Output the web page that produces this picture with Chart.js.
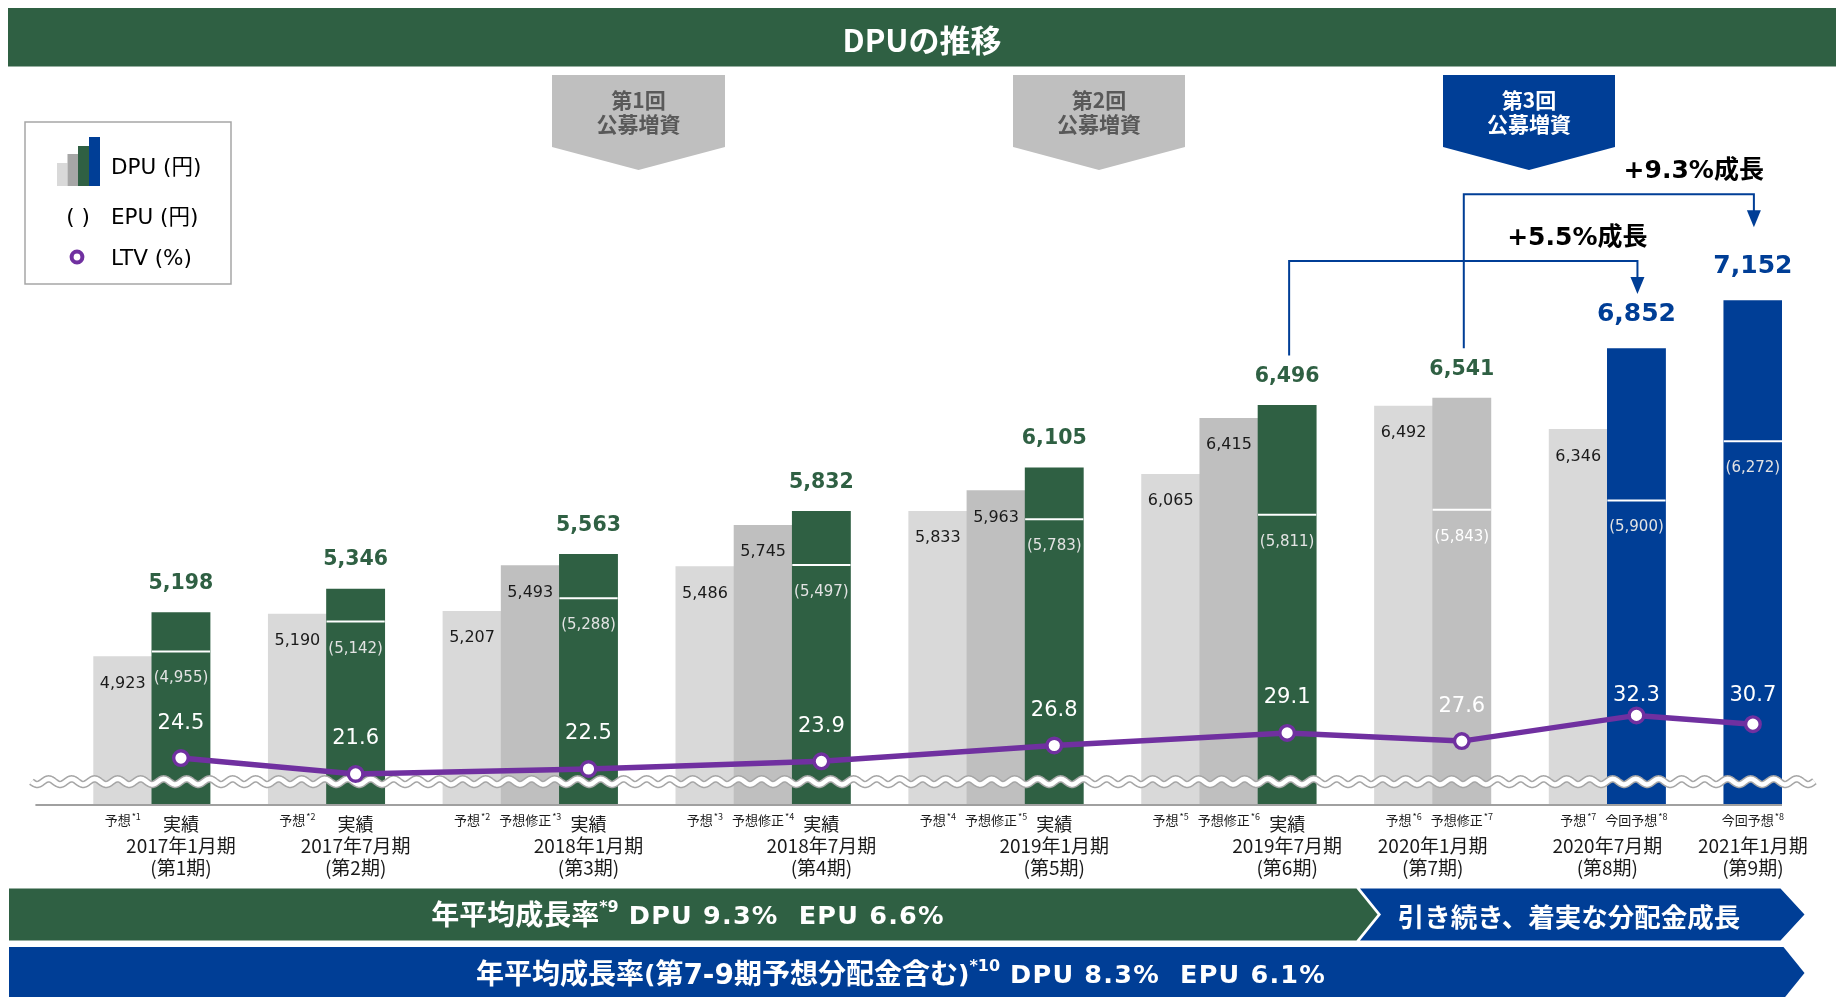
<!DOCTYPE html>
<html><head><meta charset="utf-8">
<script src="https://cdn.jsdelivr.net/npm/chart.js@4/dist/chart.umd.min.js"></script>
<style>
html,body{margin:0;padding:0;background:#fff;}
#wrap{position:relative;width:1836px;height:997px;overflow:hidden;}
#c{position:absolute;left:0;top:0;}
#ov{position:absolute;left:0;top:0;pointer-events:none;}
.mix{font-family:'DejaVu Sans','Noto Sans CJK JP',sans-serif;}
</style></head><body>
<div id="wrap">
<canvas id="c" width="1836" height="997"></canvas>
<svg id="ov" width="1836" height="997" xmlns="http://www.w3.org/2000/svg" font-family="'Noto Sans CJK JP','Noto Sans',sans-serif">
  <rect x="8" y="8" width="1828" height="58.5" fill="#2f6043"/>
  <text x="922" y="38" fill="#fff" font-size="31" font-weight="bold" text-anchor="middle" dominant-baseline="central">DPUの推移</text>

  <polygon points="552,75 725,75 725,147 638.5,170 552,147" fill="#bfbfbf"/>
  <text x="638.5" y="99" fill="#595959" font-size="21" font-weight="bold" text-anchor="middle" dominant-baseline="central">第1回</text>
  <text x="638.5" y="123" fill="#595959" font-size="21" font-weight="bold" text-anchor="middle" dominant-baseline="central">公募増資</text>

  <polygon points="1013,75 1185,75 1185,147 1099,170 1013,147" fill="#bfbfbf"/>
  <text x="1099" y="99" fill="#595959" font-size="21" font-weight="bold" text-anchor="middle" dominant-baseline="central">第2回</text>
  <text x="1099" y="123" fill="#595959" font-size="21" font-weight="bold" text-anchor="middle" dominant-baseline="central">公募増資</text>

  <polygon points="1443,75 1615,75 1615,147 1529,170 1443,147" fill="#003e96"/>
  <text x="1529" y="99" fill="#fff" font-size="21" font-weight="bold" text-anchor="middle" dominant-baseline="central">第3回</text>
  <text x="1529" y="123" fill="#fff" font-size="21" font-weight="bold" text-anchor="middle" dominant-baseline="central">公募増資</text>

  <rect x="25" y="122" width="206" height="162" fill="#fff" stroke="#a6a6a6" stroke-width="1.5"/>
  <rect x="57" y="163" width="10.5" height="23" fill="#d9d9d9"/>
  <rect x="67.5" y="154" width="10.5" height="32" fill="#a6a6a6"/>
  <rect x="78" y="146" width="11" height="40" fill="#2f6043"/>
  <rect x="89" y="137" width="11" height="49" fill="#003e96"/>
  <text class="mix" x="111" y="166" fill="#000" font-size="21.5" dominant-baseline="central">DPU (円)</text>
  <text class="mix" x="78" y="216" fill="#000" font-size="21.5" text-anchor="middle" dominant-baseline="central" xml:space="preserve">( )</text>
  <text class="mix" x="111" y="216" fill="#000" font-size="21.5" dominant-baseline="central">EPU (円)</text>
  <circle cx="77" cy="257" r="5.4" fill="#fff" stroke="#7030a0" stroke-width="4"/>
  <text class="mix" x="111" y="257" fill="#000" font-size="21.5" dominant-baseline="central">LTV (%)</text>

  <polygon points="9,888.5 1356.5,888.5 1377.5,914.5 1356.5,940.5 9,940.5" fill="#2f6043"/>
  <polygon points="1360,888.5 1780.5,888.5 1804.5,914.5 1780.5,940.5 1360,940.5 1381,914.5" fill="#003e96"/>
  <text class="mix" x="688" y="915" fill="#fff" font-size="28" font-weight="bold" text-anchor="middle" dominant-baseline="central" xml:space="preserve">年平均成長率<tspan font-size="16" dy="-9">*9</tspan><tspan dy="9" font-size="25.5" letter-spacing="1.2"> DPU 9.3%  EPU 6.6%</tspan></text>
  <text x="1569" y="915" fill="#fff" font-size="26.5" font-weight="bold" text-anchor="middle" dominant-baseline="central">引き続き、着実な分配金成長</text>

  <polygon points="9,947 1783.5,947 1804.5,973 1783.5,999 9,999" fill="#003e96"/>
  <text class="mix" x="901" y="974" fill="#fff" font-size="28" font-weight="bold" text-anchor="middle" dominant-baseline="central" xml:space="preserve">年平均成長率<tspan font-size="25">(</tspan>第7-9期予想分配金含む<tspan font-size="25">)</tspan><tspan font-size="16" dy="-9">*10</tspan><tspan dy="9" font-size="25.5" letter-spacing="1.2"> DPU 8.3%  EPU 6.1%</tspan></text>
</svg>
</div>
<script>
// ---- data ----
const periods = ['2017年1月期','2017年7月期','2018年1月期','2018年7月期','2019年1月期','2019年7月期','2020年1月期','2020年7月期','2021年1月期'];
const periodNos = ['(第1期)','(第2期)','(第3期)','(第4期)','(第5期)','(第6期)','(第7期)','(第8期)','(第9期)'];
const forecast = [4923, 5190, 5207, 5486, 5833, 6065, 6492, 6346, null];
const forecastNote = ['*1','*2','*2','*3','*4','*5','*6','*7', null];
const revised = [null, null, 5493, 5745, 5963, 6415, 6541, null, null];
const revisedNote = [null, null, '*3','*4','*5','*6','*7', null, null];
const actual = [5198, 5346, 5563, 5832, 6105, 6496, null, null, null];
const current = [null, null, null, null, null, null, null, 6852, 7152];
const currentNote = '*8';
const epu = [4955, 5142, 5288, 5497, 5783, 5811, 5843, 5900, 6272];
const ltv = [24.5, 21.6, 22.5, 23.9, 26.8, 29.1, 27.6, 32.3, 30.7];
const kindLabels = {forecast:'予想', revised:'予想修正', actual:'実績', current:'今回予想'};
const growth = [
  {from:5, to:7, label:'+5.5%成長', level:7400},
  {from:6, to:8, label:'+9.3%成長', level:7818}
];
const breakValue = 4140;      // DPU value where the axis-break band is drawn
const ltvLabelCeiling = 36.0; // LTV labels are not placed above this LTV level

// ---- styles ----
const COL = {forecast:'#d9d9d9', revised:'#bfbfbf', actual:'#2f6043', current:'#003e96'};
const GREEN = '#2f6043', BLUE = '#003e96', PURPLE = '#7030a0';
const NUMFONT = "'DejaVu Sans', Verdana, sans-serif";
const JPFONT = "'Noto Sans CJK JP', 'Noto Sans', sans-serif";
const MIXFONT = "'DejaVu Sans', 'Noto Sans CJK JP', sans-serif";

// ---- build slots ----
const slots = [{type:'pad'}];
for (let g = 0; g < periods.length; g++) {
  const bars = [];
  if (forecast[g] != null) bars.push({kind:'forecast', v:forecast[g], note:forecastNote[g]});
  if (revised[g] != null) bars.push({kind:'revised', v:revised[g], note:revisedNote[g]});
  if (actual[g] != null) bars.push({kind:'actual', v:actual[g], note:null});
  if (current[g] != null) bars.push({kind:'current', v:current[g], note:currentNote});
  bars.forEach((b, i) => { b.group = g; b.head = (i === bars.length - 1); slots.push(b); });
  if (g < periods.length - 1) slots.push({type:'gap'});
}
const labels = slots.map((s, i) => 's' + i);
const barData = slots.map(s => s.v != null ? s.v : null);
const barColors = slots.map(s => s.kind ? COL[s.kind] : 'rgba(0,0,0,0)');
const ltvData = slots.map(s => s.head ? ltv[s.group] : null);
const headIndex = g => slots.findIndex(s => s.head && s.group === g);

function drawSup(ctx, x, y, main, sup, mainFont, supFont, color) {
  ctx.save();
  ctx.fillStyle = color;
  ctx.textBaseline = 'alphabetic';
  ctx.textAlign = 'left';
  ctx.font = mainFont; const w1 = ctx.measureText(main).width;
  ctx.font = supFont; const w2 = sup ? ctx.measureText(sup).width + 1 : 0;
  const x0 = x - (w1 + w2) / 2;
  ctx.font = mainFont; ctx.fillText(main, x0, y);
  if (sup) { ctx.font = supFont; ctx.fillText(sup, x0 + w1 + 1, y - 5); }
  ctx.restore();
}

const deco = {
  id: 'deco',
  afterDatasetDraw(chart, args) {
    if (args.index !== 0) return;
    const ctx = chart.ctx, ca = chart.chartArea, ys = chart.scales.y;
    ctx.save();
    ctx.strokeStyle = '#a0a0a0'; ctx.lineWidth = 2;
    ctx.beginPath(); ctx.moveTo(ca.left, ca.bottom + 1); ctx.lineTo(ca.right, ca.bottom + 1); ctx.stroke();
    const yw = ys.getPixelForValue(breakValue);
    ctx.beginPath();
    const x0 = ca.left - 4, x1 = ca.right + 33;
    for (let x = x0; x <= x1; x += 1) {
      const yy = yw + 2.8 * Math.sin((x - x0) / 23 * 2 * Math.PI);
      if (x === x0) ctx.moveTo(x, yy); else ctx.lineTo(x, yy);
    }
    ctx.lineJoin = 'round';
    ctx.strokeStyle = '#a6a6a6'; ctx.lineWidth = 7.5; ctx.stroke();
    ctx.strokeStyle = '#ffffff'; ctx.lineWidth = 4.5; ctx.stroke();
    ctx.restore();
  },
  afterDatasetsDraw(chart) {
    const ctx = chart.ctx, ca = chart.chartArea, ys = chart.scales.y, y2 = chart.scales.y2;
    const meta = chart.getDatasetMeta(0), lmeta = chart.getDatasetMeta(1);
    const ceilPx = y2.getPixelForValue(ltvLabelCeiling);
    ctx.save();
    ctx.textAlign = 'center'; ctx.textBaseline = 'middle';
    slots.forEach((s, i) => {
      if (s.v == null) return;
      const el = meta.data[i];
      const x = el.x, top = el.y, w = el.width;
      if (s.head) {
        const big = s.kind === 'current';
        ctx.font = 'bold ' + (big ? 25 : 20.5) + 'px ' + NUMFONT;
        ctx.fillStyle = big ? BLUE : GREEN;
        ctx.fillText(s.v.toLocaleString('en-US'), x, top - (big ? 34 : 29));
        const ye = ys.getPixelForValue(epu[s.group]);
        ctx.strokeStyle = '#ffffff'; ctx.lineWidth = 2;
        ctx.beginPath(); ctx.moveTo(x - w / 2, ye); ctx.lineTo(x + w / 2, ye); ctx.stroke();
        ctx.font = '15px ' + NUMFONT;
        ctx.fillStyle = s.kind === 'revised' ? '#ffffff' : '#e3e3e3';
        ctx.fillText('(' + epu[s.group].toLocaleString('en-US') + ')', x, ye + 27);
        const pt = lmeta.data[i];
        ctx.font = '21px ' + NUMFONT;
        ctx.fillStyle = '#ffffff';
        ctx.fillText(ltv[s.group].toFixed(1), x, Math.max(pt.y - 35, ceilPx));
      } else {
        ctx.font = '16px ' + NUMFONT;
        ctx.fillStyle = '#1a1a1a';
        ctx.fillText(s.v.toLocaleString('en-US'), x, top + 27);
      }
      if (s.kind === 'actual') {
        drawSup(ctx, x, ca.bottom + 27, kindLabels[s.kind], null, '18px ' + JPFONT, '9px ' + JPFONT, '#1a1a1a');
      } else {
        drawSup(ctx, x, ca.bottom + 21, kindLabels[s.kind], s.note, '13px ' + JPFONT, '9px ' + JPFONT, '#1a1a1a');
      }
    });
    for (let g = 0; g < periods.length; g++) {
      const idx = slots.map((s, i) => s.group === g ? i : -1).filter(i => i >= 0);
      const ai = slots.findIndex(s => s.group === g && s.kind === 'actual');
      let x;
      if (ai >= 0) x = meta.data[ai].x;
      else x = (meta.data[idx[0]].x + meta.data[idx[idx.length - 1]].x) / 2;
      ctx.font = '19px ' + JPFONT; ctx.fillStyle = '#1a1a1a';
      ctx.textAlign = 'center'; ctx.textBaseline = 'middle';
      ctx.fillText(periods[g], x, ca.bottom + 42);
      ctx.fillText(periodNos[g], x, ca.bottom + 64);
    }
    growth.forEach(gr => {
      const a = headIndex(gr.from), b = headIndex(gr.to);
      const xa = meta.data[a].x + 2, xb = meta.data[b].x + 1;
      const ya = meta.data[a].y - 50;
      const yl = ys.getPixelForValue(gr.level);
      ctx.strokeStyle = BLUE; ctx.lineWidth = 2;
      ctx.beginPath(); ctx.moveTo(xa, ya); ctx.lineTo(xa, yl); ctx.lineTo(xb, yl); ctx.lineTo(xb, yl + 20); ctx.stroke();
      ctx.fillStyle = BLUE;
      ctx.beginPath(); ctx.moveTo(xb - 7, yl + 16); ctx.lineTo(xb + 7, yl + 16); ctx.lineTo(xb, yl + 33); ctx.closePath(); ctx.fill();
      ctx.font = 'bold 25px ' + MIXFONT; ctx.fillStyle = '#000';
      ctx.textAlign = 'right'; ctx.textBaseline = 'middle';
      ctx.fillText(gr.label, xb + 10, yl - 23);
    });
    ctx.restore();
  }
};

new Chart(document.getElementById('c'), {
  type: 'bar',
  data: {
    labels: labels,
    datasets: [
      {type:'bar', label:'DPU (円)', data: barData, backgroundColor: barColors, borderWidth: 0,
       barPercentage: 1, categoryPercentage: 1, order: 1, yAxisID: 'y'},
      {type:'line', label:'LTV (%)', data: ltvData, yAxisID: 'y2', order: 0, spanGaps: true,
       borderColor: PURPLE, borderWidth: 5.5, pointRadius: 7.3, pointHoverRadius: 7.3,
       pointBackgroundColor: '#ffffff', pointBorderColor: PURPLE, pointBorderWidth: 3.4, tension: 0}
    ]
  },
  options: {
    responsive: false, animation: false, devicePixelRatio: 1,
    layout: {padding: {left: 35.4, right: 54, top: 165.2, bottom: 193}},
    plugins: {legend: {display: false}, tooltip: {enabled: false}},
    scales: {
      x: {display: false, offset: true},
      y: {display: false, min: 4000, max: 8000},
      y2: {display: false, min: 16.1, max: 132.9, position: 'right'}
    }
  },
  plugins: [deco]
});
</script>
</body></html>
